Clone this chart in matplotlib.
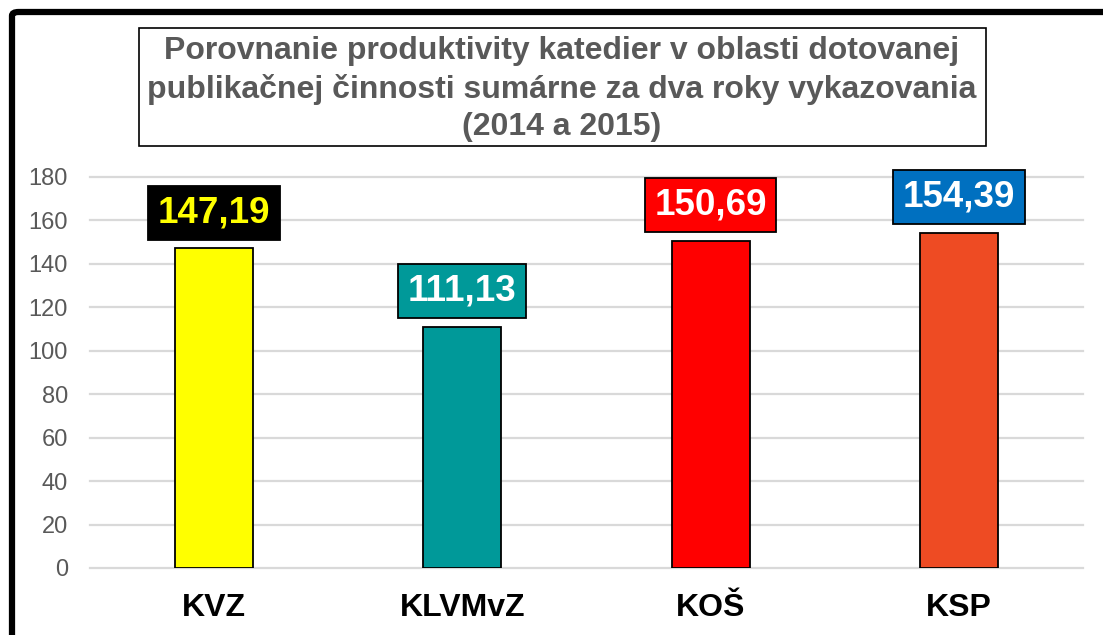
import matplotlib.pyplot as plt
from matplotlib.patches import Rectangle, FancyBboxPatch

plt.rcParams['font.family'] = ['Liberation Sans', 'DejaVu Sans']

categories = ["KVZ", "KLVMvZ", "KOŠ", "KSP"]
values = [147.19, 111.13, 150.69, 154.39]
labels = ["147,19", "111,13", "150,69", "154,39"]
bar_colors = ["#FFFF00", "#009999", "#FF0000", "#EE4B23"]
box_colors = ["#000000", "#009999", "#FF0000", "#0070C0"]
text_colors = ["#FFFF00", "#FFFFFF", "#FFFFFF", "#FFFFFF"]
yticks = [0, 20, 40, 60, 80, 100, 120, 140, 160, 180]
title = ("Porovnanie produktivity katedier v oblasti dotovanej\n"
         "publikačnej činnosti sumárne za dva roky vykazovania\n"
         "(2014 a 2015)")

fig = plt.figure(figsize=(11.03, 6.35), dpi=100)
ax = fig.add_axes([90 / 1103, 1 - 568 / 635, (1083 - 90) / 1103, (568 - 177) / 635])

x = range(len(categories))
ax.bar(x, values, width=0.315, color=bar_colors, edgecolor="black", linewidth=1.3, zorder=3)

for i, v in enumerate(values):
    ax.annotate(labels[i], (i, v), xytext=(0, 13), textcoords="offset points",
                ha="center", va="bottom", fontsize=26.5, fontweight="bold",
                color=text_colors[i],
                bbox=dict(boxstyle="square,pad=0.26", facecolor=box_colors[i],
                          edgecolor="black", linewidth=1.3), zorder=5)

ax.set_xlim(-0.5, 3.5)
ax.set_ylim(0, 180)
ax.set_yticks(yticks)
ax.set_xticks(list(x))
ax.set_xticklabels(categories, fontsize=23, fontweight="bold")
ax.tick_params(axis="y", length=0, pad=16, labelsize=17, labelcolor="#595959")
ax.tick_params(axis="x", length=0, pad=18)
ax.yaxis.grid(True, color="#D9D9D9", linewidth=1.6, clip_on=False)
ax.set_axisbelow(True)
for s in ax.spines.values():
    s.set_visible(False)

# title box
fig.patches.append(Rectangle((139 / 1103, 1 - 146 / 635), (986 - 139) / 1103, (146 - 28) / 635,
                             transform=fig.transFigure, facecolor="white",
                             edgecolor="black", linewidth=1.2))
fig.text(562 / 1103, 1 - 89 / 635, title, ha="center", va="center", fontsize=23,
         fontweight="bold", color="#595959", linespacing=1.3)

# outer frame (cropped)
fig.patches.append(FancyBboxPatch((12 / 1103, -0.1), 1.2, 1 - 12 / 635 + 0.1,
                                  boxstyle="round,pad=0,rounding_size=0.006",
                                  transform=fig.transFigure, facecolor="none",
                                  edgecolor="black", linewidth=4.5))

fig.savefig("out.png", dpi=100)
